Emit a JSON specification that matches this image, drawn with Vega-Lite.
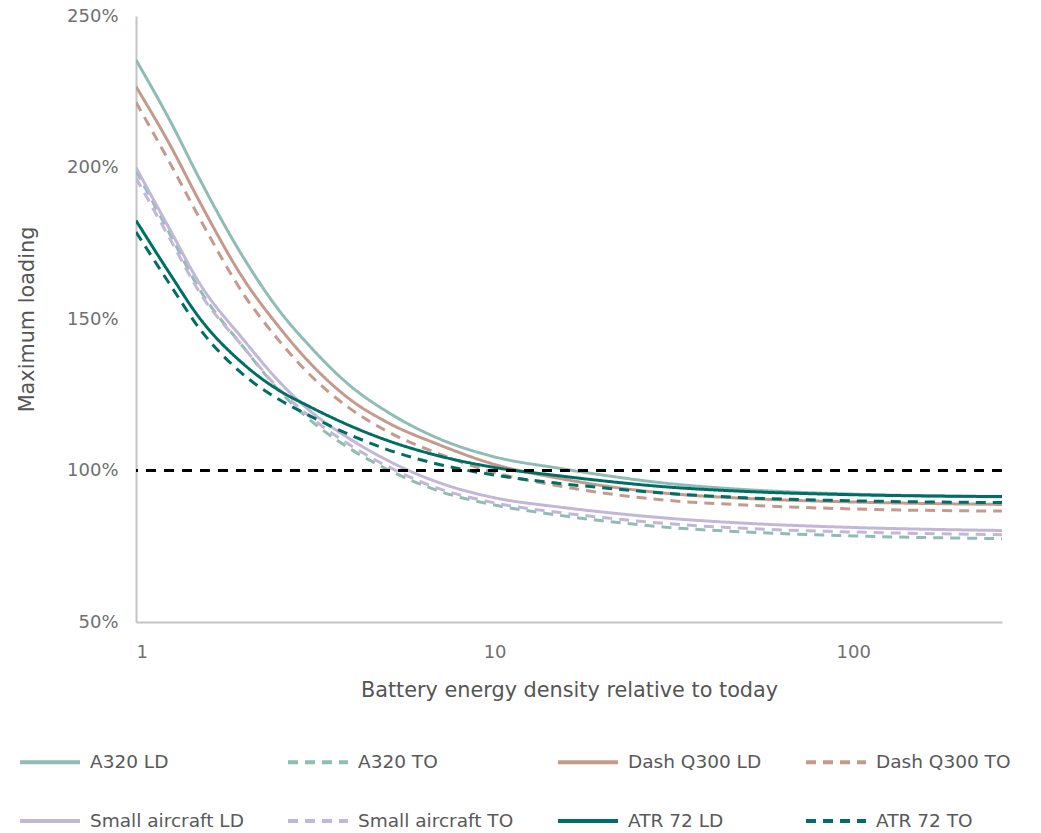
{
  "$schema": "https://vega.github.io/schema/vega-lite/v6.json",
  "width": 866,
  "height": 606,
  "autosize": {"type": "none"},
  "padding": {"left": 136, "top": 16, "right": 39, "bottom": 211},
  "background": "white",
  "config": {
    "view": {"stroke": null},
    "font": "DejaVu Sans"
  },
  "data": {"values": [
    {"s":"A320 LD","x":1,"y":235.5},{"s":"A320 LD","x":1.25,"y":215},{"s":"A320 LD","x":1.5,"y":196.5},{"s":"A320 LD","x":2,"y":170},{"s":"A320 LD","x":2.5,"y":153},{"s":"A320 LD","x":3,"y":142},{"s":"A320 LD","x":4,"y":127.5},{"s":"A320 LD","x":5,"y":119.5},{"s":"A320 LD","x":7,"y":110.5},{"s":"A320 LD","x":10,"y":104.5},{"s":"A320 LD","x":15,"y":100.8},{"s":"A320 LD","x":20,"y":98.5},{"s":"A320 LD","x":30,"y":95.8},{"s":"A320 LD","x":50,"y":93.7},{"s":"A320 LD","x":100,"y":92.2},{"s":"A320 LD","x":260,"y":91.3},
    {"s":"A320 TO","x":1,"y":199},{"s":"A320 TO","x":1.25,"y":177.5},{"s":"A320 TO","x":1.5,"y":160},{"s":"A320 TO","x":2,"y":140.5},{"s":"A320 TO","x":2.5,"y":126.5},{"s":"A320 TO","x":3,"y":117.5},{"s":"A320 TO","x":4,"y":106.8},{"s":"A320 TO","x":5,"y":100.5},{"s":"A320 TO","x":7,"y":93.2},{"s":"A320 TO","x":10,"y":88.6},{"s":"A320 TO","x":15,"y":85.3},{"s":"A320 TO","x":20,"y":83.4},{"s":"A320 TO","x":30,"y":81.3},{"s":"A320 TO","x":50,"y":79.7},{"s":"A320 TO","x":100,"y":78.4},{"s":"A320 TO","x":260,"y":77.5},
    {"s":"Dash Q300 LD","x":1,"y":226.7},{"s":"Dash Q300 LD","x":1.25,"y":207},{"s":"Dash Q300 LD","x":1.5,"y":189},{"s":"Dash Q300 LD","x":2,"y":163},{"s":"Dash Q300 LD","x":2.5,"y":147.5},{"s":"Dash Q300 LD","x":3,"y":136.5},{"s":"Dash Q300 LD","x":4,"y":123},{"s":"Dash Q300 LD","x":5,"y":116},{"s":"Dash Q300 LD","x":7,"y":108.5},{"s":"Dash Q300 LD","x":10,"y":102},{"s":"Dash Q300 LD","x":15,"y":97.5},{"s":"Dash Q300 LD","x":20,"y":95},{"s":"Dash Q300 LD","x":30,"y":92.5},{"s":"Dash Q300 LD","x":50,"y":90.8},{"s":"Dash Q300 LD","x":100,"y":89.6},{"s":"Dash Q300 LD","x":260,"y":88.8},
    {"s":"Dash Q300 TO","x":1,"y":221.5},{"s":"Dash Q300 TO","x":1.25,"y":201},{"s":"Dash Q300 TO","x":1.5,"y":183.5},{"s":"Dash Q300 TO","x":2,"y":158},{"s":"Dash Q300 TO","x":2.5,"y":143},{"s":"Dash Q300 TO","x":3,"y":132.5},{"s":"Dash Q300 TO","x":4,"y":120},{"s":"Dash Q300 TO","x":5,"y":113},{"s":"Dash Q300 TO","x":7,"y":105.5},{"s":"Dash Q300 TO","x":10,"y":99.3},{"s":"Dash Q300 TO","x":15,"y":95},{"s":"Dash Q300 TO","x":20,"y":92.6},{"s":"Dash Q300 TO","x":30,"y":90.2},{"s":"Dash Q300 TO","x":50,"y":88.6},{"s":"Dash Q300 TO","x":100,"y":87.3},{"s":"Dash Q300 TO","x":260,"y":86.6},
    {"s":"Small aircraft LD","x":1,"y":200},{"s":"Small aircraft LD","x":1.25,"y":179},{"s":"Small aircraft LD","x":1.5,"y":162},{"s":"Small aircraft LD","x":2,"y":143},{"s":"Small aircraft LD","x":2.5,"y":129.5},{"s":"Small aircraft LD","x":3,"y":120.5},{"s":"Small aircraft LD","x":4,"y":110},{"s":"Small aircraft LD","x":5,"y":103.5},{"s":"Small aircraft LD","x":7,"y":96},{"s":"Small aircraft LD","x":10,"y":91},{"s":"Small aircraft LD","x":15,"y":88},{"s":"Small aircraft LD","x":20,"y":86.3},{"s":"Small aircraft LD","x":30,"y":84.3},{"s":"Small aircraft LD","x":50,"y":82.6},{"s":"Small aircraft LD","x":100,"y":81.2},{"s":"Small aircraft LD","x":260,"y":80.2},
    {"s":"Small aircraft TO","x":1,"y":196.5},{"s":"Small aircraft TO","x":1.25,"y":176},{"s":"Small aircraft TO","x":1.5,"y":159},{"s":"Small aircraft TO","x":2,"y":140.5},{"s":"Small aircraft TO","x":2.5,"y":127},{"s":"Small aircraft TO","x":3,"y":118.5},{"s":"Small aircraft TO","x":4,"y":108},{"s":"Small aircraft TO","x":5,"y":101.5},{"s":"Small aircraft TO","x":7,"y":94},{"s":"Small aircraft TO","x":10,"y":89.3},{"s":"Small aircraft TO","x":15,"y":86.2},{"s":"Small aircraft TO","x":20,"y":84.5},{"s":"Small aircraft TO","x":30,"y":82.5},{"s":"Small aircraft TO","x":50,"y":80.9},{"s":"Small aircraft TO","x":100,"y":79.7},{"s":"Small aircraft TO","x":260,"y":78.8},
    {"s":"ATR 72 LD","x":1,"y":182.5},{"s":"ATR 72 LD","x":1.25,"y":164.5},{"s":"ATR 72 LD","x":1.5,"y":150.5},{"s":"ATR 72 LD","x":2,"y":135},{"s":"ATR 72 LD","x":2.5,"y":126.5},{"s":"ATR 72 LD","x":3,"y":121.5},{"s":"ATR 72 LD","x":4,"y":114.5},{"s":"ATR 72 LD","x":5,"y":110},{"s":"ATR 72 LD","x":7,"y":104.8},{"s":"ATR 72 LD","x":10,"y":101},{"s":"ATR 72 LD","x":15,"y":98.3},{"s":"ATR 72 LD","x":20,"y":96.6},{"s":"ATR 72 LD","x":30,"y":94.6},{"s":"ATR 72 LD","x":50,"y":93.1},{"s":"ATR 72 LD","x":100,"y":92},{"s":"ATR 72 LD","x":260,"y":91.4},
    {"s":"ATR 72 TO","x":1,"y":178.7},{"s":"ATR 72 TO","x":1.25,"y":161},{"s":"ATR 72 TO","x":1.5,"y":147},{"s":"ATR 72 TO","x":2,"y":131.5},{"s":"ATR 72 TO","x":2.5,"y":123.5},{"s":"ATR 72 TO","x":3,"y":118.5},{"s":"ATR 72 TO","x":4,"y":111.5},{"s":"ATR 72 TO","x":5,"y":107},{"s":"ATR 72 TO","x":7,"y":102},{"s":"ATR 72 TO","x":10,"y":98.5},{"s":"ATR 72 TO","x":15,"y":95.8},{"s":"ATR 72 TO","x":20,"y":94.3},{"s":"ATR 72 TO","x":30,"y":92.5},{"s":"ATR 72 TO","x":50,"y":91},{"s":"ATR 72 TO","x":100,"y":90},{"s":"ATR 72 TO","x":260,"y":89.4}
  ]},
  "layer": [
    {
      "mark": {"type": "line", "strokeWidth": 3, "interpolate": "monotone", "clip": true},
      "encoding": {
        "x": {
          "field": "x", "type": "quantitative",
          "scale": {"type": "log", "domain": [1, 260], "nice": false},
          "axis": {
            "title": "Battery energy density relative to today",
            "values": [1, 10, 100], "format": "d",
            "grid": false, "ticks": false,
            "domainColor": "#c4c4c4", "domainWidth": 2,
            "labelFontSize": 18, "labelColor": "#707070", "labelPadding": 21,
            "titleFontSize": 20.8, "titleFontWeight": "normal", "titleColor": "#555555", "titlePadding": 19
          }
        },
        "y": {
          "field": "y", "type": "quantitative",
          "scale": {"domain": [50, 250], "nice": false, "zero": false},
          "axis": {
            "title": "Maximum loading",
            "values": [50, 100, 150, 200, 250],
            "labelExpr": "datum.value + '%'",
            "grid": false, "ticks": false,
            "domainColor": "#c4c4c4", "domainWidth": 2,
            "labelFontSize": 18, "labelColor": "#707070", "labelPadding": 18,
            "titleFontSize": 20.8, "titleFontWeight": "normal", "titleColor": "#555555", "titlePadding": 29
          }
        },
        "color": {
          "field": "s", "type": "nominal",
          "scale": {
            "domain": ["A320 LD", "A320 TO", "Dash Q300 LD", "Dash Q300 TO", "Small aircraft LD", "Small aircraft TO", "ATR 72 LD", "ATR 72 TO"],
            "range": ["#8FBDB6", "#8FBDB6", "#C49A8D", "#C49A8D", "#C3B7D7", "#C3B7D7", "#006E64", "#006E64"]
          },
          "legend": {
            "title": null,
            "orient": "none", "legendX": -118, "legendY": 714,
            "direction": "horizontal", "columns": 4,
            "symbolType": "stroke", "symbolSize": 3600, "symbolStrokeWidth": 4,
            "labelFontSize": 18.5, "labelColor": "#595959", "labelOffset": 8,
            "columnPadding": 36, "rowPadding": 17, "labelLimit": 300
          }
        },
        "strokeDash": {
          "field": "s", "type": "nominal",
          "scale": {
            "domain": ["A320 LD", "A320 TO", "Dash Q300 LD", "Dash Q300 TO", "Small aircraft LD", "Small aircraft TO", "ATR 72 LD", "ATR 72 TO"],
            "range": [[1, 0], [10, 7], [1, 0], [10, 7], [1, 0], [10, 7], [1, 0], [10, 7]]
          },
          "legend": null
        }
      }
    },
    {
      "mark": {"type": "rule", "strokeWidth": 3, "strokeDash": [10, 8], "color": "#000000"},
      "encoding": {"y": {"datum": 100}}
    }
  ]
}
